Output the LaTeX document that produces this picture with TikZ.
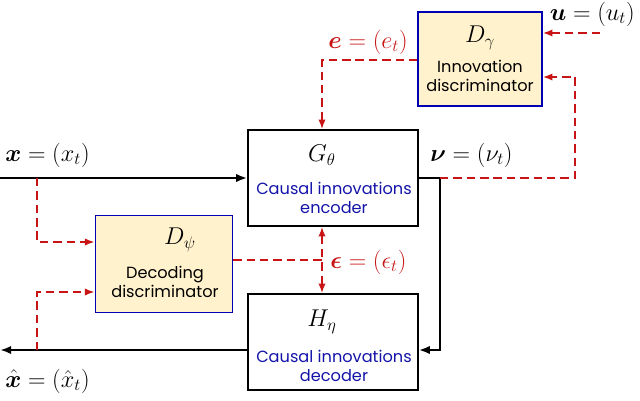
\documentclass[tikz,border=0pt]{standalone}
\usepackage{fontspec}
\usepackage{amsmath,bm}
\setmainfont{Poppins}
\usetikzlibrary{arrows.meta}
\definecolor{dred}{RGB}{200,20,20}
\definecolor{dblue}{RGB}{20,20,170}
\definecolor{byel}{RGB}{255,242,204}
\begin{document}
\begin{tikzpicture}[x=0.025cm,y=-0.025cm,
 box/.style={draw,line width=0.9pt,minimum width=4.25cm,minimum height=2.4cm,fill=white},
 disc/.style={draw=blue!70!black,line width=0.9pt,fill=byel},
 sig/.style={line width=2pt,-{Latex[length=8pt]}},
 rd/.style={dred,dash pattern=on 6pt off 3.5pt,line width=2pt,-{Latex[length=7pt]}},
 lab/.style={font=\fontsize{17}{20}\selectfont,inner sep=0pt},
 sym/.style={font=\fontsize{18}{22}\selectfont},
 bl/.style={dblue,font=\fontsize{11.5}{14}\selectfont},
 bk/.style={font=\fontsize{11.5}{14}\selectfont}]
\useasboundingbox (0,0) rectangle (640,401);
% boxes
\node[disc,minimum width=3.1cm,minimum height=2.35cm] (dg) at (480,59) {};
\node[sym] (dgl) at (480,38) {$D_\gamma$};
\node[bk,align=center] (dgt) at (480,76) {Innovation\\discriminator};
\node[box] (g) at (333,178) {};
\node[sym] (gl) at (322,155) {$G_\theta$};
\node[bl,align=center] (gt) at (334,198) {Causal innovations\\encoder};
\node[box] (h) at (333,342) {};
\node[sym] (hl) at (322,322) {$H_\eta$};
\node[bl,align=center] (ht) at (334,366) {Causal innovations\\decoder};
\node[disc,minimum width=3.43cm,minimum height=2.43cm] (dp) at (164,264) {};
\node[sym] (dpl) at (180,240) {$D_\psi$};
\node[bk,align=center] (dpt) at (165,282) {Decoding\\discriminator};
% labels
\node[lab,anchor=east] (u) at (635,14) {$\bm{u}=(u_t)$};
\node[lab,dred,anchor=east] (e) at (408,42) {$\bm{e}=(e_t)$};
\node[lab,anchor=west] (x) at (5,155) {$\bm{x}=(x_t)$};
\node[lab,anchor=west] (nu) at (430,155) {$\bm{\nu}=(\nu_t)$};
\node[lab,dred,anchor=west] (eps) at (330,262) {$\bm{\epsilon}=(\epsilon_t)$};
\node[lab,anchor=west] (xh) at (5,381) {$\hat{\bm{x}}=(\hat{x}_t)$};
% coordinates
\coordinate (uin) at (600,33);
\coordinate (xin) at (0,178);
\coordinate (xout) at (0,350);
\coordinate (nuj) at (440,178);
\coordinate (xj) at (37,178);
\coordinate (xhj) at (37,350);
% black
\draw[sig] (xin) -- (g.west|-xin);
\draw[line width=2pt] (g.east|-nuj) -- (nuj);
\draw[sig] (nuj) |- (h.east|-xhj);
\draw[sig] (h.west|-xhj) -- (xout);
% red
\draw[rd] (uin) -- (dg.east|-uin);
\draw[rd] (dg.west|-0,60) -| (g.north-|322,0);
\draw[rd] (nuj) -- (575,178) |- (dg.east|-0,77);
\draw[rd] (xj) |- (dp.west|-0,242);
\draw[rd] (xhj) |- (dp.west|-0,292);
\draw[rd,{Latex[length=7pt]}-{Latex[length=7pt]}] (g.south-|322,0) -- (h.north-|322,0);
\draw[dred,dash pattern=on 6pt off 3.5pt,line width=2pt] (dp.east|-0,260) -- (322,260);
\end{tikzpicture}
\end{document}
